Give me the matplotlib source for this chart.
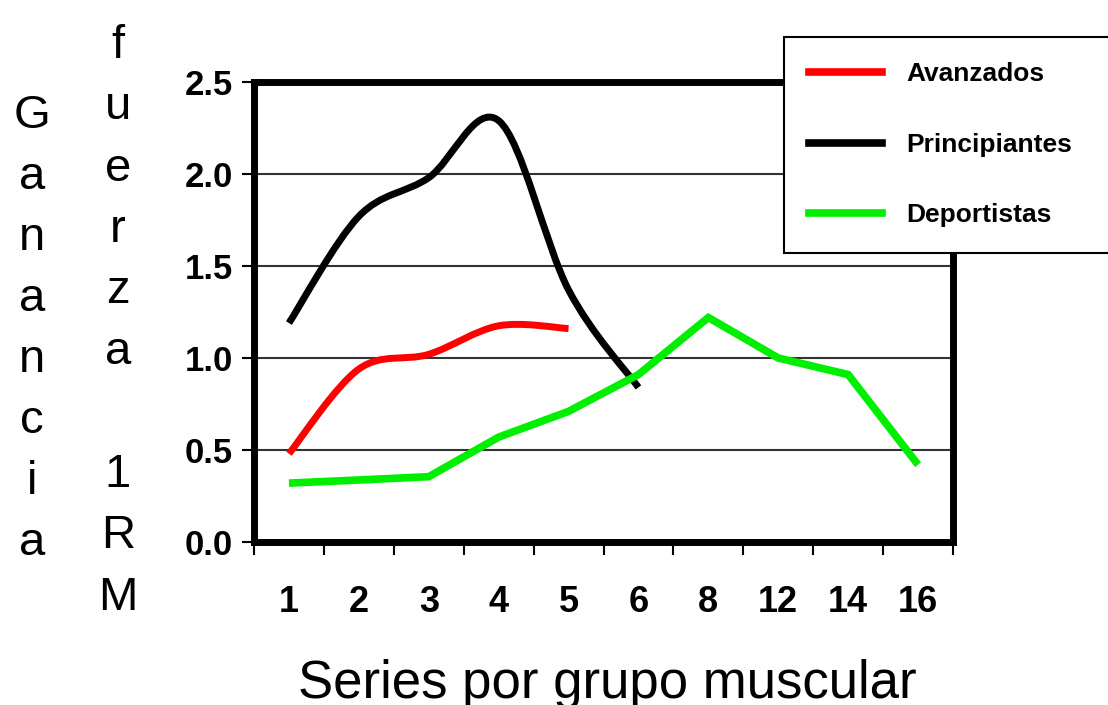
"""Ganancia de fuerza 1RM vs series por grupo muscular."""

import matplotlib

matplotlib.use("Agg")
import matplotlib.pyplot as plt
import numpy as np
from matplotlib.lines import Line2D
from matplotlib.patches import PathPatch
from matplotlib.path import Path
from matplotlib.ticker import FixedLocator, MultipleLocator

plt.rcParams["font.family"] = ["Liberation Sans", "DejaVu Sans"]

SERIES_LABELS = ["1", "2", "3", "4", "5", "6", "8", "12", "14", "16"]
AVANZADOS = [0.48, 0.94, 1.02, 1.175, 1.16]
PRINCIPIANTES = [1.19, 1.77, 1.98, 2.29, 1.37, 0.84]
DEPORTISTAS = [0.32, 0.337, 0.355, 0.57, 0.71, 0.91, 1.22, 1.00, 0.91, 0.42]

RED = "#ff0000"
BLACK = "#000000"
GREEN = "#00ee00"
W, H = 1108, 705


def smooth_path(values):
    """Excel-style smoothed line as cubic Bezier segments."""
    pts = np.column_stack([np.arange(len(values)), values]).astype(float)
    n = len(pts)
    verts = [pts[0]]
    codes = [Path.MOVETO]
    for i in range(n - 1):
        p0 = pts[max(i - 1, 0)]
        p1 = pts[i]
        p2 = pts[i + 1]
        p3 = pts[min(i + 2, n - 1)]
        verts += [p1 + (p2 - p0) / 6, p2 - (p3 - p1) / 6, p2]
        codes += [Path.CURVE4] * 3
    return Path(verts, codes)


fig = plt.figure(figsize=(W / 100, H / 100), dpi=100)
ax = fig.add_axes([254 / W, 1 - 542 / H, (953 - 254) / W, (542 - 82) / H])

ax.yaxis.grid(True, color="#333333", linewidth=1.5)
ax.set_axisbelow(True)

for vals, color in [(AVANZADOS, RED), (PRINCIPIANTES, BLACK)]:
    ax.add_patch(
        PathPatch(
            smooth_path(vals),
            facecolor="none",
            edgecolor=color,
            linewidth=5,
            capstyle="butt",
            joinstyle="round",
            zorder=3,
        )
    )
ax.plot(
    np.arange(len(DEPORTISTAS)),
    DEPORTISTAS,
    color=GREEN,
    linewidth=5.5,
    solid_capstyle="butt",
    solid_joinstyle="miter",
    zorder=4,
)

ax.set_xlim(-0.5, len(SERIES_LABELS) - 0.5)
ax.set_ylim(0, 2.5)
ax.yaxis.set_major_locator(MultipleLocator(0.5))
ax.yaxis.set_major_formatter(plt.FormatStrFormatter("%.1f"))
ax.set_xticks(np.arange(len(SERIES_LABELS)))
ax.set_xticklabels(SERIES_LABELS)
ax.xaxis.set_minor_locator(FixedLocator(np.arange(len(SERIES_LABELS) + 1) - 0.5))

ax.tick_params(axis="x", which="major", length=0, pad=31, labelsize=26)
ax.tick_params(axis="x", which="minor", direction="out", length=9.5, width=1.5)
ax.tick_params(axis="y", direction="out", length=9, width=1.5, pad=6, labelsize=25)
for lab in ax.get_xticklabels() + ax.get_yticklabels():
    lab.set_fontweight("bold")

for spine in ax.spines.values():
    spine.set_linewidth(5)
    spine.set_color("black")

# stacked vertical y-axis label
for i, ch in enumerate("Ganancia"):
    fig.text(32 / W, 1 - (128 + i * 61) / H, ch, ha="center", va="baseline", fontsize=34)
for i, ch in enumerate("fuerza 1RM"):
    fig.text(118 / W, 1 - (58 + i * 61.3) / H, ch, ha="center", va="baseline", fontsize=34)

fig.text(607 / W, 1 - 698 / H, "Series por grupo muscular", ha="center", va="baseline", fontsize=38)

handles = [
    Line2D([], [], color=RED, linewidth=5.5),
    Line2D([], [], color=BLACK, linewidth=5.5),
    Line2D([], [], color=GREEN, linewidth=5.5),
]
leg = fig.legend(
    handles,
    ["Avanzados", "Principiantes", "Deportistas"],
    loc="upper left",
    bbox_to_anchor=(784 / W, 1 - 252 / H, 0.4, 215 / H),
    mode="expand",
    borderaxespad=0,
    borderpad=0.95,
    labelspacing=1.77,
    handlelength=2.75,
    handletextpad=0.95,
    fancybox=False,
    framealpha=1,
    edgecolor="black",
    prop={"weight": "bold", "size": 19},
)
leg.get_frame().set_linewidth(1.5)

fig.savefig("out.png", dpi=100)
